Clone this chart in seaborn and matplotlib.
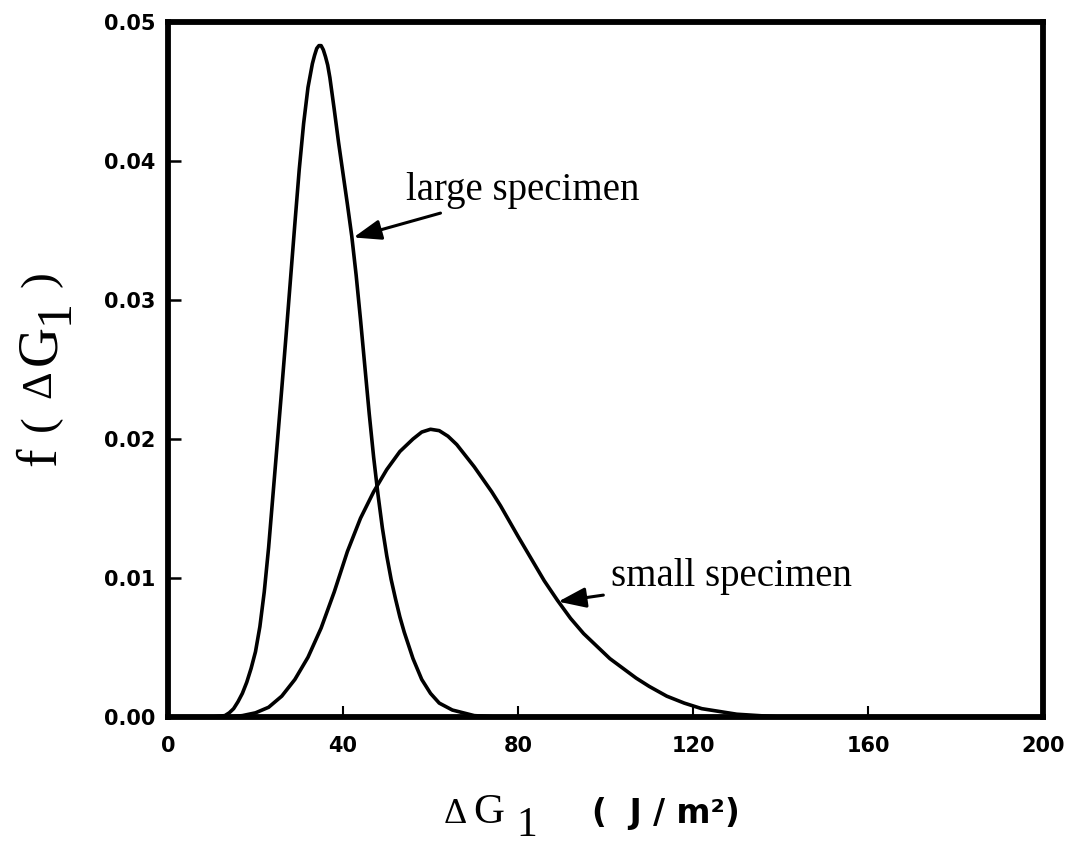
import numpy as np
import pandas as pd
import seaborn as sns
import matplotlib
matplotlib.use("Agg")
import matplotlib.pyplot as plt

sns.set_style("white")
plt.rcParams['font.family'] = ['DejaVu Sans']
plt.rcParams['text.color'] = 'black'
plt.rcParams['xtick.color'] = 'black'
plt.rcParams['ytick.color'] = 'black'

# values
large_x = [0, 10, 13, 14, 15, 16, 17, 18, 19, 20, 21, 22, 23, 24, 25, 26, 27, 28, 29,
           30, 31, 32, 33, 33.5, 34, 34.5, 35, 35.5, 36, 36.5, 37, 38, 39, 40, 41, 42,
           43, 44, 45, 46, 47, 48, 49, 50, 51, 52, 53, 54, 56, 58, 60, 62, 65, 70, 75, 200]
large_y = [0, 0, 0.0001, 0.0003, 0.0006, 0.0011, 0.0017, 0.0025, 0.0035, 0.0047, 0.0065,
           0.0090, 0.0122, 0.0160, 0.0198, 0.0236, 0.0275, 0.0315, 0.0355, 0.0394, 0.0427,
           0.0453, 0.0470, 0.0476, 0.0481, 0.0483, 0.0483, 0.0480, 0.0475, 0.0469, 0.0460,
           0.0437, 0.0413, 0.0391, 0.0369, 0.0346, 0.0318, 0.0286, 0.0252, 0.0218, 0.0187,
           0.0160, 0.0136, 0.0116, 0.0099, 0.0085, 0.0072, 0.0061, 0.0042, 0.0027, 0.0017,
           0.0010, 0.0005, 0.0001, 0, 0]

small_x = [0, 14, 17, 20, 23, 26, 29, 32, 35, 38, 41, 44, 47, 50, 53, 56, 58, 60, 62, 64,
           66, 68, 70, 72, 74, 76, 78, 80, 83, 86, 89, 92, 95, 98, 101, 104, 107, 110, 114,
           118, 122, 126, 130, 135, 140, 200]
small_y = [0, 0, 0.0001, 0.0003, 0.0007, 0.0015, 0.0027, 0.0043, 0.0064, 0.0090, 0.0119,
           0.0143, 0.0162, 0.0178, 0.0191, 0.0200, 0.0205, 0.0207, 0.0206, 0.0202, 0.0196,
           0.0188, 0.0180, 0.0171, 0.0162, 0.0152, 0.0141, 0.0130, 0.0114, 0.0098, 0.0084,
           0.0071, 0.0060, 0.0051, 0.0042, 0.0035, 0.0028, 0.0022, 0.0015, 0.0010, 0.0006,
           0.0004, 0.0002, 0.0001, 0, 0]

x_ticks = [0, 40, 80, 120, 160, 200]
y_ticks = [0.00, 0.01, 0.02, 0.03, 0.04, 0.05]

df_large = pd.DataFrame({"dG": large_x, "f": large_y})
df_small = pd.DataFrame({"dG": small_x, "f": small_y})

fig = plt.figure(figsize=(10.69, 8.46), dpi=100)
ax = fig.add_axes([168/1069, 1-717/846, 875/1069, 695/846])

sns.lineplot(data=df_large, x="dG", y="f", ax=ax, color="black", linewidth=2.6, sort=False)
sns.lineplot(data=df_small, x="dG", y="f", ax=ax, color="black", linewidth=2.6, sort=False)

ax.set_xlim(0, 200)
ax.set_ylim(0, 0.05)
ax.set_xticks(x_ticks)
ax.set_yticks(y_ticks)
ax.set_xticklabels([str(t) for t in x_ticks])
ax.set_yticklabels([f"{t:.2f}" for t in y_ticks])
ax.set_xlabel("")
ax.set_ylabel("")
for lab in ax.get_xticklabels() + ax.get_yticklabels():
    lab.set_fontweight("bold")
    lab.set_fontsize(15)
    lab.set_color("black")
ax.tick_params(axis="y", direction="in", length=9, width=1.8, pad=9, left=True)
ax.tick_params(axis="x", direction="in", length=8, width=1.5, pad=14, bottom=True)
for s in ax.spines.values():
    s.set_linewidth(4.2)
    s.set_color("black")

# annotations
serif = ["Liberation Serif", "DejaVu Serif"]
arrow = dict(arrowstyle="-|>,head_length=0.6,head_width=0.22",
             color="black", lw=2.2, shrinkA=3, shrinkB=0)
ax.annotate("large specimen", xy=(42.4, 0.0345), xytext=(54.3, 0.0379),
            fontsize=28, family=serif, va="center", ha="left", color="black",
            arrowprops=arrow)
ax.annotate("small specimen", xy=(89.2, 0.0083), xytext=(101.2, 0.0101),
            fontsize=28, family=serif, va="center", ha="left", color="black",
            arrowprops=arrow)

# x axis label built from pieces
def fx(px):
    return px / 1069

def fy(py):
    return 1 - py / 846

fig.text(fx(455), fy(823), "\u0394", fontsize=26, family=serif, ha="center", va="baseline")
fig.text(fx(489), fy(823), "G", fontsize=31, family=serif, ha="center", va="baseline")
fig.text(fx(527), fy(836), "1", fontsize=30, family=serif, ha="center", va="baseline")
fig.text(fx(592), fy(823), "(  J / m\u00b2)", fontsize=23.5, fontweight="bold",
         family=["DejaVu Sans"], ha="left", va="baseline")

# y axis label, rotated pieces
ypieces = [("f", 457, 55, 40), ("(", 423, 52, 34), ("\u0394", 384, 50, 31),
           ("G", 345, 55, 40), ("1", 311, 68, 36), (")", 279, 52, 34)]
for txt, cy, bx, fs in ypieces:
    fig.text(fx(bx), fy(cy), txt, fontsize=fs, family=serif, rotation=90,
             rotation_mode="anchor", ha="center", va="baseline")

fig.savefig("out.png", dpi=100)
